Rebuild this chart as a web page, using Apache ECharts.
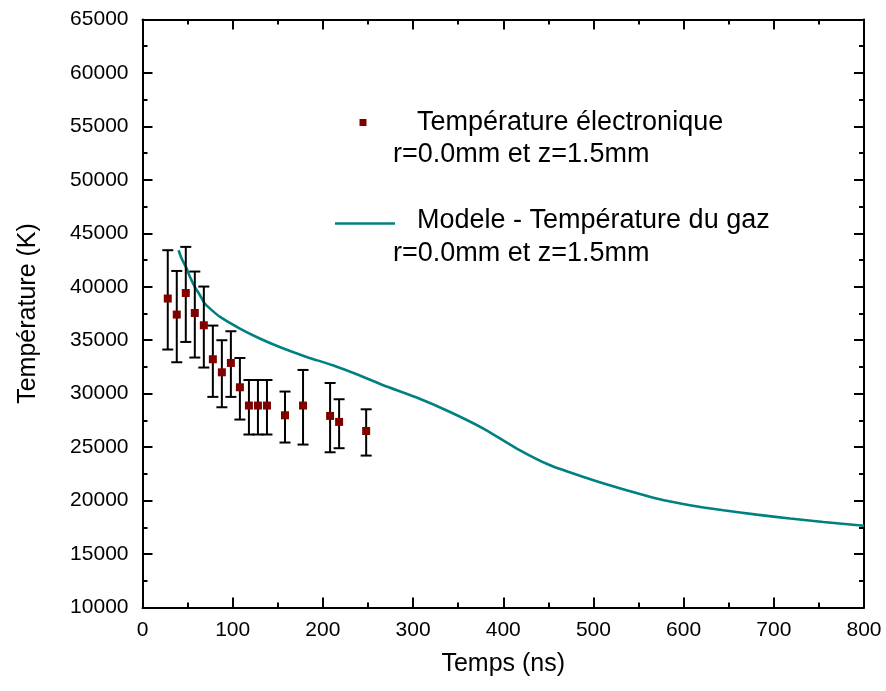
<!DOCTYPE html>
<html>
<head>
<meta charset="utf-8">
<script src="https://cdn.jsdelivr.net/npm/echarts@6/dist/echarts.min.js"></script>
<style>
html,body{margin:0;padding:0;background:#fff;}
#main{width:886px;height:691px;}
</style>
</head>
<body>
<div id="main"></div>
<script>
// Measured electron temperature (with error bars)
var expTimes = [28, 38, 48, 58, 68, 78, 88, 98, 108, 118, 128, 138, 158, 178, 208, 218, 248];
var expTemps = [38900, 37400, 39420, 37550, 36400, 33220, 32000, 32875, 30600, 28890, 28890, 28890, 27980, 28890, 27920, 27360, 26510];
var expLow   = [34130, 32940, 34840, 33380, 32445, 29700, 28730, 29700, 27580, 26180, 26180, 26180, 25430, 25240, 24520, 24900, 24210];
var expHigh  = [43420, 41480, 43730, 41425, 40020, 36370, 35000, 35840, 33340, 31280, 31280, 31280, 30200, 32220, 31000, 29480, 28540];

// Model gas temperature
var modelTimes = [40, 43.4, 49, 52.7, 58, 63.7, 69, 74.8, 86, 108, 130, 152, 182, 211, 241, 267, 304, 341, 378, 415, 452, 489, 518, 534, 570, 607, 644, 681, 718, 755, 800];
var modelTemps = [43420, 42640, 41700, 40920, 40000, 39210, 38430, 37960, 37180, 36090, 35160, 34370, 33440, 32660, 31700, 30790, 29640, 28290, 26740, 24870, 23300, 22210, 21430, 21030, 20190, 19560, 19090, 18690, 18320, 18000, 17650];

var xTicks = [0, 800, 100];
var yTicks = [10000, 65000, 5000];

var legendLabels = ['Température électronique', 'r=0.0mm et z=1.5mm', 'Modele - Température du gaz', 'r=0.0mm et z=1.5mm'];
var xTitle = 'Temps (ns)';
var yTitle = 'Température (K)';

var FONT = '"Liberation Sans", Arial, sans-serif';
var chart = echarts.init(document.getElementById('main'), null, {renderer: 'canvas'});

var expData = expTimes.map(function (t, i) { return [t, expTemps[i]]; });
var errData = expTimes.map(function (t, i) { return [t, expLow[i], expHigh[i]]; });
var modelData = modelTimes.map(function (t, i) { return [t, modelTemps[i]]; });

function axisCommon(showLabel) {
  return {
    axisLine: {show: true, onZero: false, lineStyle: {color: '#000', width: 2}},
    axisTick: {show: true, inside: true, length: 10, lineStyle: {color: '#000', width: 2}},
    minorTick: {show: true, splitNumber: 2, length: 5, lineStyle: {color: '#000', width: 2}},
    splitLine: {show: false},
    axisLabel: {show: showLabel, color: '#000', fontSize: 21, fontFamily: FONT,
      formatter: function (v) { return String(v); }}
  };
}

var xBottom = Object.assign(axisCommon(true), {
  type: 'value', position: 'bottom', min: xTicks[0], max: xTicks[1], interval: xTicks[2],
  name: xTitle, nameLocation: 'middle', nameGap: 44,
  nameTextStyle: {color: '#000', fontSize: 25, fontFamily: FONT}
});
xBottom.axisLabel.margin = 12;
var xTop = Object.assign(axisCommon(false), {
  type: 'value', position: 'top', min: xTicks[0], max: xTicks[1], interval: xTicks[2]
});
var yLeft = Object.assign(axisCommon(true), {
  type: 'value', position: 'left', min: yTicks[0], max: yTicks[1], interval: yTicks[2],
  name: yTitle, nameLocation: 'middle', nameGap: 102, nameRotate: 90,
  nameTextStyle: {color: '#000', fontSize: 25, fontFamily: FONT}
});
yLeft.axisLabel.margin = 14;
var yRight = Object.assign(axisCommon(false), {
  type: 'value', position: 'right', min: yTicks[0], max: yTicks[1], interval: yTicks[2]
});

var option = {
  backgroundColor: '#fff',
  animation: false,
  grid: {left: 142.5, right: 22, top: 19.5, bottom: 83.5, containLabel: false},
  xAxis: [xBottom, xTop],
  yAxis: [yLeft, yRight],
  series: [
    {
      type: 'line',
      name: 'model',
      xAxisIndex: 0, yAxisIndex: 0,
      data: modelData,
      smooth: 0.25,
      showSymbol: false,
      symbol: 'none',
      lineStyle: {color: '#008080', width: 2.6},
      z: 2
    },
    {
      type: 'custom',
      name: 'errors',
      xAxisIndex: 0, yAxisIndex: 0,
      data: errData,
      renderItem: function (params, api) {
        var x = api.value(0);
        var lo = api.coord([x, api.value(1)]);
        var hi = api.coord([x, api.value(2)]);
        var cap = 5.5;
        var style = {stroke: '#000', lineWidth: 2};
        return {
          type: 'group',
          children: [
            {type: 'line', shape: {x1: lo[0], y1: lo[1], x2: hi[0], y2: hi[1]}, style: style},
            {type: 'line', shape: {x1: lo[0] - cap, y1: lo[1], x2: lo[0] + cap, y2: lo[1]}, style: style},
            {type: 'line', shape: {x1: hi[0] - cap, y1: hi[1], x2: hi[0] + cap, y2: hi[1]}, style: style}
          ]
        };
      },
      z: 3
    },
    {
      type: 'scatter',
      name: 'exp',
      xAxisIndex: 0, yAxisIndex: 0,
      data: expData,
      symbol: 'rect',
      symbolSize: 8,
      itemStyle: {color: '#800000', opacity: 1},
      z: 4
    }
  ],
  graphic: [
    {type: 'rect', left: 359.5, top: 119, shape: {width: 7, height: 7}, style: {fill: '#800000'}},
    {type: 'text', left: 417, top: 109, style: {text: legendLabels[0], fill: '#000', font: '27px ' + FONT}},
    {type: 'text', left: 393, top: 141, style: {text: legendLabels[1], fill: '#000', font: '27px ' + FONT}},
    {type: 'line', shape: {x1: 335, y1: 223.5, x2: 395, y2: 223.5}, style: {stroke: '#008080', lineWidth: 2.6}},
    {type: 'text', left: 417, top: 207, style: {text: legendLabels[2], fill: '#000', font: '27px ' + FONT}},
    {type: 'text', left: 393, top: 240, style: {text: legendLabels[3], fill: '#000', font: '27px ' + FONT}}
  ]
};
chart.setOption(option);
</script>
</body>
</html>
